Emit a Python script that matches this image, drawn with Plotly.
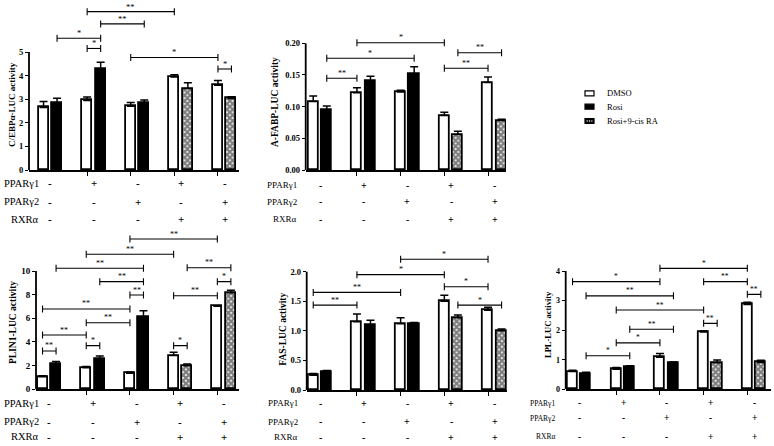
import plotly.graph_objects as go

W, H = 774, 446
FONT = "Liberation Serif"

# ---------------- data ----------------
series_names = ["DMSO", "Rosi", "Rosi+9-cis RA"]
row_names = ["PPARγ1", "PPARγ2", "RXRα"]
pparg1_row = ["-", "+", "-", "+", "-"]
pparg2_row = ["-", "-", "+", "-", "+"]
rxra_row = ["-", "-", "-", "+", "+"]
rosi_groups = [0, 1, 2]
ra_groups = [3, 4]

cebpa_dmso = [2.65, 2.95, 2.70, 3.94, 3.59]
cebpa_dmso_err = [0.25, 0.14, 0.16, 0.10, 0.20]
cebpa_rosi = [2.82, 4.27, 2.85]
cebpa_rosi_err = [0.22, 0.30, 0.12]
cebpa_ra = [3.45, 3.03]
cebpa_ra_err = [0.25, 0.07]

afabp_dmso = [0.108, 0.122, 0.123, 0.086, 0.138]
afabp_dmso_err = [0.009, 0.008, 0.003, 0.005, 0.009]
afabp_rosi = [0.095, 0.141, 0.151]
afabp_rosi_err = [0.006, 0.007, 0.012]
afabp_ra = [0.056, 0.078]
afabp_ra_err = [0.005, 0.002]

plin1_dmso = [1.07, 1.83, 1.35, 2.85, 7.01]
plin1_dmso_err = [0.08, 0.10, 0.12, 0.28, 0.06]
plin1_rosi = [2.14, 2.56, 6.08]
plin1_rosi_err = [0.20, 0.25, 0.55]
plin1_ra = [2.00, 8.17]
plin1_ra_err = [0.14, 0.20]

fas_dmso = [0.248, 1.155, 1.12, 1.50, 1.35]
fas_dmso_err = [0.03, 0.13, 0.10, 0.10, 0.05]
fas_rosi = [0.30, 1.10, 1.11]
fas_rosi_err = [0.03, 0.08, 0.03]
fas_ra = [1.22, 1.00]
fas_ra_err = [0.05, 0.03]

lpl_dmso = [0.60, 0.68, 1.08, 1.94, 2.87]
lpl_dmso_err = [0.04, 0.06, 0.13, 0.03, 0.07]
lpl_rosi = [0.53, 0.77, 0.88]
lpl_rosi_err = [0.05, 0.03, 0.04]
lpl_ra = [0.90, 0.91]
lpl_ra_err = [0.09, 0.07]

# comparisons: (group_a, series_a, group_b, series_b, label)  series 0 = DMSO, 1 = treated
cebpa_cmp = [(0, 1, 1, 1, "*"), (1, 0, 1, 1, "*"), (1, 0, 3, 0, "**"), (1, 1, 2, 1, "**"),
             (2, 0, 4, 0, "*"), (4, 0, 4, 1, "*")]
cebpa_lvl = [5.58, 5.15, 6.71, 6.19, 4.77, 4.28]
afabp_cmp = [(0, 1, 1, 0, "**"), (0, 1, 2, 1, "*"), (1, 0, 3, 0, "*"), (3, 0, 4, 0, "**"),
             (3, 1, 4, 1, "**")]
afabp_lvl = [0.1448, 0.1763, 0.2009, 0.1605, 0.1852]
plin1_cmp = [(2, 0, 4, 0, "**"), (1, 0, 3, 0, "**"), (0, 1, 2, 1, "**"), (3, 1, 4, 1, "**"),
             (1, 1, 2, 1, "**"), (4, 0, 4, 1, "*"), (2, 0, 2, 1, "**"), (3, 0, 4, 0, "**"),
             (0, 0, 2, 0, "**"), (1, 0, 2, 0, "**"), (0, 0, 1, 0, "**"), (1, 0, 1, 1, "*"),
             (3, 0, 3, 1, "*"), (0, 0, 0, 1, "**")]
plin1_lvl = [12.7, 11.41, 10.23, 10.28, 9.10, 9.10, 7.97, 7.91, 6.79, 5.63, 4.59, 3.69, 3.69, 3.24]
fas_cmp = [(2, 0, 4, 0, "*"), (1, 0, 3, 0, "*"), (0, 0, 2, 0, "**"), (3, 0, 4, 0, "*"),
           (0, 0, 1, 0, "**"), (3, 1, 4, 1, "*")]
fas_lvl = [2.21, 1.95, 1.65, 1.745, 1.435, 1.435]
lpl_cmp = [(2, 0, 4, 0, "*"), (0, 0, 2, 0, "*"), (3, 0, 4, 0, "**"), (0, 1, 2, 1, "**"),
           (4, 0, 4, 1, "**"), (1, 0, 3, 0, "**"), (3, 0, 3, 1, "**"), (1, 1, 2, 1, "**"),
           (1, 0, 2, 0, "*"), (0, 1, 1, 1, "*")]
lpl_lvl = [4.09, 3.64, 3.64, 3.16, 3.21, 2.68, 2.23, 2.03, 1.57, 1.135]

cebpa_ticks = [0, 1, 2, 3, 4, 5]
afabp_ticks = [0.0, 0.05, 0.10, 0.15, 0.20]
plin1_ticks = [0, 2, 4, 6, 8, 10]
fas_ticks = [0.0, 0.5, 1.0, 1.5, 2.0]
lpl_ticks = [0, 1, 2, 3, 4]

# ---------------- panel layout (pixels) ----------------
panels = [
    dict(title="C/EBPα-LUC activity", dmso=cebpa_dmso, dmso_err=cebpa_dmso_err,
         rosi=cebpa_rosi, rosi_err=cebpa_rosi_err, ra=cebpa_ra, ra_err=cebpa_ra_err,
         cmp=cebpa_cmp, lvl=cebpa_lvl, ticks=cebpa_ticks, fmt="{:.0f}",
         axis_px=29, right_px=239, g0_px=50.3, gap_px=43.6, zero_px=170, top_tick_px=52, top_px=2,
         rows_px=[183.3, 201.7, 219], row_right=41, row_fs=10.5, sign_fs=11, tick_fs=8.5,
         title_x=12, title_y=105, title_fs=9, star_fs=8.5),
    dict(title="A-FABP-LUC activity", dmso=afabp_dmso, dmso_err=afabp_dmso_err,
         rosi=afabp_rosi, rosi_err=afabp_rosi_err, ra=afabp_ra, ra_err=afabp_ra_err,
         cmp=afabp_cmp, lvl=afabp_lvl, ticks=afabp_ticks, fmt="{:.2f}",
         axis_px=305.7, right_px=506, g0_px=320, gap_px=43.7, zero_px=170, top_tick_px=43.3, top_px=2,
         rows_px=[185, 201.7, 219], row_right=299, row_fs=9, sign_fs=10, tick_fs=8.5,
         title_x=275, title_y=102, title_fs=9.5, star_fs=8),
    dict(title="PLIN1-LUC activity", dmso=plin1_dmso, dmso_err=plin1_dmso_err,
         rosi=plin1_rosi, rosi_err=plin1_rosi_err, ra=plin1_ra, ra_err=plin1_ra_err,
         cmp=plin1_cmp, lvl=plin1_lvl, ticks=plin1_ticks, fmt="{:.0f}",
         axis_px=36, right_px=239, g0_px=49.3, gap_px=43.7, zero_px=389.3, top_tick_px=271, top_px=228,
         rows_px=[403.3, 421.7, 436.7], row_right=41, row_fs=10.5, sign_fs=11, tick_fs=9,
         title_x=13, title_y=323, title_fs=9.5, star_fs=8),
    dict(title="FAS-LUC activity", dmso=fas_dmso, dmso_err=fas_dmso_err,
         rosi=fas_rosi, rosi_err=fas_rosi_err, ra=fas_ra, ra_err=fas_ra_err,
         cmp=fas_cmp, lvl=fas_lvl, ticks=fas_ticks, fmt="{:.1f}",
         axis_px=306.7, right_px=507, g0_px=320, gap_px=43.7, zero_px=390, top_tick_px=271.7, top_px=228,
         rows_px=[403.3, 421.7, 437.3], row_right=300, row_fs=9, sign_fs=10, tick_fs=8.5,
         title_x=282.7, title_y=329, title_fs=9.5, star_fs=8),
    dict(title="LPL-LUC activity", dmso=lpl_dmso, dmso_err=lpl_dmso_err,
         rosi=lpl_rosi, rosi_err=lpl_rosi_err, ra=lpl_ra, ra_err=lpl_ra_err,
         cmp=lpl_cmp, lvl=lpl_lvl, ticks=lpl_ticks, fmt="{:.0f}",
         axis_px=565.7, right_px=771, g0_px=579.3, gap_px=43.7, zero_px=389.3, top_tick_px=271, top_px=228,
         rows_px=[403.3, 418.3, 436.7], row_right=557, row_fs=7.5, sign_fs=9.5, tick_fs=8,
         title_x=548, title_y=325, title_fs=8.5, star_fs=7.5),
]

OFF = 0.155
BW = 0.23
LINE_W = 1.8

fig = go.Figure()
shapes = []
annotations = []
layout_axes = {}

pattern_ra = dict(shape="x", fgcolor="black", bgcolor="white", size=4, solidity=0.8)


def err_dict(e):
    return dict(type="data", array=e, arrayminus=[0] * len(e), symmetric=False,
                color="black", thickness=1.5, width=4)


for i, p in enumerate(panels, start=1):
    xa = "x" if i == 1 else f"x{i}"
    ya = "y" if i == 1 else f"y{i}"
    n = len(p["dmso"])
    fig.add_trace(go.Bar(
        x=[g - OFF for g in range(n)], y=p["dmso"], width=BW, name=series_names[0],
        marker=dict(color="white", line=dict(color="black", width=LINE_W)),
        error_y=err_dict(p["dmso_err"]), xaxis=xa, yaxis=ya, showlegend=False))
    fig.add_trace(go.Bar(
        x=[g + OFF for g in rosi_groups], y=p["rosi"], width=BW, name=series_names[1],
        marker=dict(color="black", line=dict(color="black", width=LINE_W)),
        error_y=err_dict(p["rosi_err"]), xaxis=xa, yaxis=ya, showlegend=False))
    fig.add_trace(go.Bar(
        x=[g + OFF for g in ra_groups], y=p["ra"], width=BW, name=series_names[2],
        marker=dict(color="white", line=dict(color="black", width=LINE_W), pattern=pattern_ra),
        error_y=err_dict(p["ra_err"]), xaxis=xa, yaxis=ya, showlegend=False))

    per_unit = (p["zero_px"] - p["top_tick_px"]) / p["ticks"][-1]
    ytop = (p["zero_px"] - p["top_px"]) / per_unit
    xlo = (p["axis_px"] - p["g0_px"]) / p["gap_px"]
    xhi = (p["right_px"] - p["g0_px"]) / p["gap_px"]

    key = "" if i == 1 else str(i)
    layout_axes[f"xaxis{key}"] = dict(
        domain=[p["axis_px"] / W, p["right_px"] / W], range=[xlo, xhi], anchor=ya,
        showline=True, linecolor="black", linewidth=LINE_W, showgrid=False, zeroline=False,
        tickvals=[g - OFF for g in range(1, n)], ticktext=[""] * (n - 1), automargin=False,
        ticks="outside", ticklen=4, tickwidth=1.3, tickcolor="black", fixedrange=True)
    layout_axes[f"yaxis{key}"] = dict(
        domain=[1 - p["zero_px"] / H, 1 - p["top_px"] / H], range=[0, ytop], anchor=xa,
        showline=False, showgrid=False, zeroline=False, automargin=False,
        tickmode="array", tickvals=p["ticks"],
        ticktext=["<b>" + p["fmt"].format(t) + "</b>" for t in p["ticks"]],
        ticks="outside", ticklen=3, tickwidth=1.3, tickcolor="black", ticklabelstandoff=0,
        ticklabeloverflow="allow", showticklabels=True,
        tickfont=dict(family=FONT, size=p["tick_fs"], color="black"), fixedrange=True)

    # y axis line from 0 to the top tick
    shapes.append(dict(type="line", xref=f"{xa} domain", yref=ya, x0=0, x1=0,
                       y0=0, y1=p["ticks"][-1], line=dict(color="black", width=LINE_W)))

    # significance brackets
    for (ga, sa, gb, sb, lab), lv in zip(p["cmp"], p["lvl"]):
        xa_pos = ga + (OFF if sa else -OFF)
        xb_pos = gb + (OFF if sb else -OFF)
        shapes.append(dict(type="line", xref=xa, yref=ya, x0=xa_pos, x1=xb_pos, y0=lv, y1=lv,
                           line=dict(color="black", width=1.1)))
        for xp in (xa_pos, xb_pos):
            shapes.append(dict(type="line", xref=xa, yref=ya, ysizemode="pixel", yanchor=lv,
                               x0=xp, x1=xp, y0=-3.5, y1=3.5, line=dict(color="black", width=1.1)))
        annotations.append(dict(xref=xa, yref=ya, x=(xa_pos + xb_pos) / 2, y=lv, text=lab,
                                showarrow=False, yshift=5, yanchor="middle",
                                font=dict(family=FONT, size=p["star_fs"], color="black")))

    # condition rows
    for r, (rname, signs) in enumerate(zip(row_names, [pparg1_row, pparg2_row, rxra_row])):
        yy = 1 - p["rows_px"][r] / H
        annotations.append(dict(xref="paper", yref="paper", x=p["row_right"] / W, y=yy,
                                text=rname, showarrow=False, xanchor="right", yanchor="middle",
                                font=dict(family=FONT, size=p["row_fs"], color="black")))
        for g, s in enumerate(signs):
            annotations.append(dict(xref=xa, yref="paper", x=g, y=yy, text="<b>" + s + "</b>",
                                    showarrow=False, xanchor="center", yanchor="middle",
                                    font=dict(family=FONT, size=p["sign_fs"], color="black")))

    # y axis title
    annotations.append(dict(xref="paper", yref="paper", x=p["title_x"] / W, y=1 - p["title_y"] / H,
                            text="<b>" + p["title"] + "</b>", textangle=-90, showarrow=False,
                            xanchor="center", yanchor="middle",
                            font=dict(family=FONT, size=p["title_fs"], color="black")))

# ---------------- legend (drawn) ----------------
legend_y_px = [93.3, 106.7, 121]
sw_x0, sw_x1, sw_h = 585, 594, 5
for k, (name, ly) in enumerate(zip(series_names, legend_y_px)):
    fill = "white" if k == 0 else "black"
    shapes.append(dict(type="rect", xref="paper", yref="paper",
                       x0=sw_x0 / W, x1=sw_x1 / W, y0=1 - (ly + sw_h / 2) / H, y1=1 - (ly - sw_h / 2) / H,
                       fillcolor=fill, line=dict(color="black", width=1.2)))
    if k == 2:
        for cx in (587.2, 589.5, 591.8):
            shapes.append(dict(type="rect", xref="paper", yref="paper",
                               x0=(cx - 0.7) / W, x1=(cx + 0.7) / W,
                               y0=1 - (ly + 0.6) / H, y1=1 - (ly - 0.6) / H,
                               fillcolor="white", line=dict(width=0)))
    annotations.append(dict(xref="paper", yref="paper", x=605 / W, y=1 - ly / H, text=name,
                            showarrow=False, xanchor="left", yanchor="middle",
                            font=dict(family=FONT, size=8.5, color="black")))

fig.update_layout(
    width=W, height=H, margin=dict(l=0, r=0, t=0, b=0),
    paper_bgcolor="white", plot_bgcolor="white",
    barmode="overlay", bargap=0,
    font=dict(family=FONT, color="black"),
    showlegend=False,
    shapes=shapes, annotations=annotations,
    **layout_axes,
)

fig.write_html("out.html", config={"displayModeBar": False},
               post_script="document.body.style.margin='0';document.body.style.overflow='hidden';")
